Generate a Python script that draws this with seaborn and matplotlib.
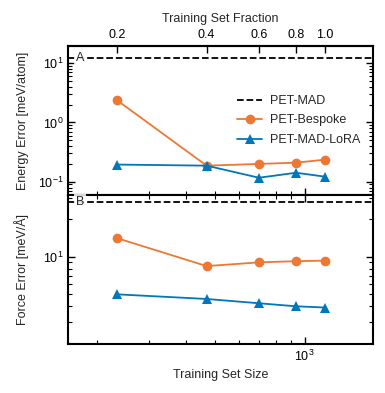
import numpy as np
import pandas as pd
import matplotlib
matplotlib.use("Agg")
import matplotlib.pyplot as plt
import seaborn as sns
from matplotlib.ticker import LogLocator, NullLocator, FixedLocator, FixedFormatter

# data
sizes = [234, 468, 702, 936, 1170]
fractions = [0.2, 0.4, 0.6, 0.8, 1.0]
energy_bespoke = [2.36, 0.187, 0.20, 0.21, 0.236]
energy_lora = [0.195, 0.187, 0.117, 0.142, 0.122]
force_bespoke = [14.1, 8.4, 9.0, 9.2, 9.3]
force_lora = [4.97, 4.56, 4.21, 3.98, 3.89]
petmad_energy = 12.2
petmad_force = 27.5

ORANGE = "#EE7733"
BLUE = "#0077BB"

sns.set_theme(style="ticks")
plt.rcParams["font.family"] = ["Liberation Sans", "DejaVu Sans"]
plt.rcParams["mathtext.fontset"] = "custom"
plt.rcParams["mathtext.rm"] = "Liberation Sans"
plt.rcParams["mathtext.it"] = "Liberation Sans:italic"
plt.rcParams["font.size"] = 9

fig = plt.figure(figsize=(3.85, 3.93), dpi=100)
gs = fig.add_gridspec(2, 1, left=0.177, right=0.969, top=0.883, bottom=0.125, hspace=0)
ax1 = fig.add_subplot(gs[0])
ax2 = fig.add_subplot(gs[1], sharex=ax1)

df_e = pd.DataFrame({"size": sizes, "bespoke": energy_bespoke, "lora": energy_lora})
df_f = pd.DataFrame({"size": sizes, "bespoke": force_bespoke, "lora": force_lora})

for ax, df, ref in [(ax1, df_e, petmad_energy), (ax2, df_f, petmad_force)]:
    ax.axhline(ref, color="black", ls="--", lw=1.3, label="PET-MAD", zorder=1)
    sns.lineplot(data=df, x="size", y="bespoke", ax=ax, color=ORANGE, marker="o",
                 markersize=7, markeredgewidth=0, lw=1.3, label="PET-Bespoke")
    sns.lineplot(data=df, x="size", y="lora", ax=ax, color=BLUE, marker="^",
                 markersize=7.5, markeredgewidth=0, lw=1.3, label="PET-MAD-LoRA")
    ax.set_xscale("log")
    ax.set_yscale("log")
    for s in ax.spines.values():
        s.set_linewidth(1.5)
        s.set_color("black")
    ax.tick_params(which="both", direction="in", right=True, colors="black",
                   labelsize=9)
    ax.tick_params(which="major", length=5, width=1.0)
    ax.tick_params(which="minor", length=3, width=0.8)

ax1.set_xlim(160, 1700)
ax1.set_ylim(0.06, 19.5)
ax2.set_ylim(1.98, 31.5)

ax1.tick_params(axis="x", which="both", labelbottom=False, top=False)
ax2.tick_params(axis="x", which="both", top=True)
ax2.yaxis.set_major_locator(LogLocator(base=10))
ax2.yaxis.set_minor_locator(LogLocator(base=10, subs=np.arange(2, 10)))

ax1.set_ylabel("Energy Error [meV/atom]", fontsize=9)
ax2.set_ylabel("Force Error [meV/Å]", fontsize=9)
ax1.set_xlabel("")
ax2.set_xlabel("Training Set Size", fontsize=9)

ax1.yaxis.set_label_coords(-0.13, 0.5)
ax2.yaxis.set_label_coords(-0.13, 0.5)

# top axis: training set fraction
total = sizes[-1]
sec = ax1.secondary_xaxis("top", functions=(lambda x: x / total, lambda f: f * total))
sec.xaxis.set_major_locator(FixedLocator(fractions))
sec.xaxis.set_major_formatter(FixedFormatter([f"{f:.1f}" for f in fractions]))
sec.xaxis.set_minor_locator(NullLocator())
sec.tick_params(direction="in", length=5, width=1.0, labelsize=9, colors="black")
sec.spines["top"].set_linewidth(1.5)
sec.set_xlabel("Training Set Fraction", fontsize=9, labelpad=5)

# panel letters
for ax, letter, ref in [(ax1, "A", petmad_energy), (ax2, "B", petmad_force)]:
    ax.text(0.025, ref, letter, transform=ax.get_yaxis_transform(), ha="left", va="center",
            fontsize=9, zorder=5,
            bbox=dict(facecolor="white", edgecolor="none", alpha=0.85, pad=1.5))

leg = ax1.legend(loc="center right", frameon=False, fontsize=9, handlelength=2.0,
                 handletextpad=0.6, labelspacing=0.6, bbox_to_anchor=(0.995, 0.5))
if ax2.legend_:
    ax2.legend_.remove()

fig.savefig("out.png", dpi=100)
